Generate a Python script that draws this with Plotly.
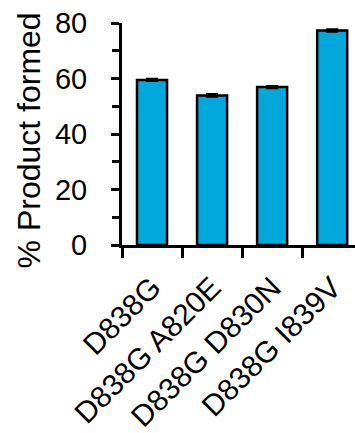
import plotly.graph_objects as go

# Product formation per construct
constructs = ["D838G", "D838G A820E", "D838G D830N", "D838G I839V"]
product_pct = [59.5, 53.9, 56.9, 77.3]
product_err = [0.2, 0.3, 0.2, 0.3]
y_title = "% Product formed"

bar_color = "#00A8DC"
font_family = "Liberation Sans, Arial, sans-serif"

fig = go.Figure(
    go.Bar(
        x=constructs,
        y=product_pct,
        width=0.5,
        marker=dict(color=bar_color, line=dict(color="black", width=2.5)),
        error_y=dict(type="data", array=product_err, visible=True,
                     color="black", thickness=3, width=6),
    )
)

fig.update_layout(
    width=355,
    height=433,
    margin=dict(l=122, r=0, t=23, b=184),
    paper_bgcolor="white",
    plot_bgcolor="white",
    showlegend=False,
    font=dict(family=font_family, color="black", size=29),
)

fig.update_xaxes(
    type="category",
    range=[-0.5, 3.38],
    showline=True,
    linecolor="black",
    linewidth=3,
    ticks="outside",
    tickson="boundaries",
    ticklen=10,
    tickwidth=3,
    tickcolor="black",
    tickangle=-45,
    tickfont=dict(size=30),
    ticklabelstandoff=10,
    showgrid=False,
    zeroline=False,
)

fig.update_yaxes(
    range=[0, 80],
    tickvals=[0, 20, 40, 60, 80],
    showline=True,
    linecolor="black",
    linewidth=3,
    ticks="outside",
    ticklen=8,
    tickwidth=3,
    tickcolor="black",
    tickfont=dict(size=29),
    ticklabelstandoff=18,
    minor=dict(dtick=10, ticks="outside", ticklen=7, tickwidth=3, tickcolor="black"),
    showgrid=False,
    zeroline=False,
)

# Vertical axis title, placed as a rotated annotation beside the tick labels
fig.add_annotation(
    text=y_title,
    xref="paper", yref="paper",
    x=-0.40, y=0.47,
    xanchor="center", yanchor="middle",
    textangle=-90,
    showarrow=False,
    font=dict(size=32, family=font_family, color="black"),
)

fig.write_html("out.html")
